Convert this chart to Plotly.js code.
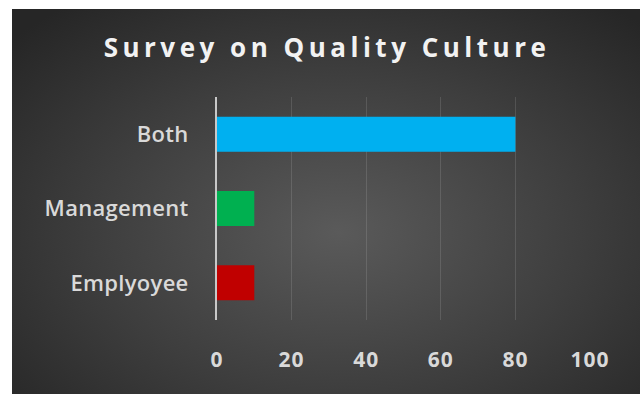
<!DOCTYPE html>
<html>
<head>
<meta charset="utf-8">
<script src="https://cdn.plot.ly/plotly-3.0.1.min.js"></script>
<style>
  html, body { margin: 0; padding: 0; background: #ffffff; }
  #wrap { position: relative; width: 640px; height: 394px; overflow: hidden; }
  #bg { position: absolute; left: 12px; top: 9px; width: 628px; height: 385px;
        background: radial-gradient(ellipse 70% 75% at 52% 58%, #5a5a5a 0%, #3e3e3e 55%, #262626 100%); }
  #chart { position: absolute; left: 0; top: 0; width: 640px; height: 394px; }
  #chart .gtitle { letter-spacing: 4.5px; }
  #chart .xtick text { letter-spacing: 1px; }
  #chart .ytick text { letter-spacing: 0.3px; }
</style>
</head>
<body>
<div id="wrap"><div id="bg"></div><div id="chart"></div></div>
<script>
const categories = ['Emplyoyee', 'Management', 'Both'];
const values = [10, 10, 80];
const barColors = ['#c00000', '#00b050', '#00b0f0'];
const xTicks = [0, 20, 40, 60, 80, 100];

const trace = {
  type: 'bar',
  orientation: 'h',
  y: categories,
  x: values,
  marker: { color: barColors, line: { width: 0 } },
  hoverinfo: 'none'
};

const layout = {
  width: 640,
  height: 394,
  paper_bgcolor: 'rgba(0,0,0,0)',
  plot_bgcolor: 'rgba(0,0,0,0)',
  margin: { l: 217, r: 50, t: 97, b: 74 },
  showlegend: false,
  bargap: 0.53,
  title: {
    text: 'Survey on Quality Culture',
    font: { family: 'Open Sans', size: 26, color: '#f2f2f2', weight: 700 },
    x: 327 / 640, xref: 'container', xanchor: 'center',
    y: 1 - 48 / 394, yref: 'container', yanchor: 'middle'
  },
  xaxis: {
    range: [0, 100],
    tickvals: xTicks,
    ticktext: xTicks.map(String),
    showgrid: true,
    gridcolor: 'rgba(255,255,255,0.12)',
    gridwidth: 1,
    zeroline: false,
    showline: false,
    ticks: '',
    ticklabelstandoff: 25,
    tickfont: { family: 'Open Sans', size: 21, color: '#d9d9d9', weight: 700 },
    fixedrange: true
  },
  yaxis: {
    type: 'category',
    categoryorder: 'array',
    categoryarray: categories,
    showgrid: false,
    zeroline: false,
    showline: true,
    linecolor: '#c8c8c8',
    linewidth: 2,
    ticks: '',
    ticklabelstandoff: 22,
    tickfont: { family: 'Open Sans', size: 22, color: '#d9d9d9', weight: 600 },
    fixedrange: true
  }
};

Plotly.newPlot('chart', [trace], layout, { displayModeBar: false, staticPlot: true });
</script>
</body>
</html>
